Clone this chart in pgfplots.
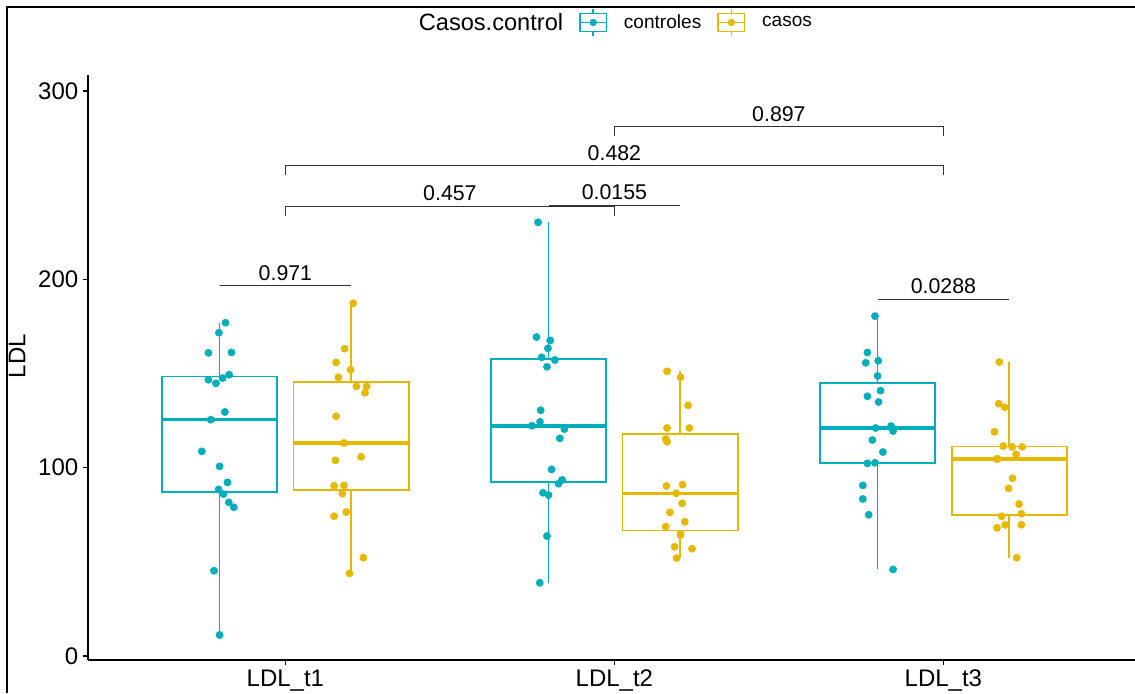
\documentclass[border=0pt]{standalone}
\usepackage{pgfplots}
\pgfplotsset{compat=1.18}
\usepackage{pgfplotstable}
\usepgfplotslibrary{statistics}
\usepackage{fontspec}
\setmainfont{Liberation Sans}

\definecolor{ctrl}{HTML}{00AFBB}
\definecolor{caso}{HTML}{E7B800}
\definecolor{brk}{HTML}{333333}

% jittered observations: x = dodged position, y = LDL
\pgfplotstableread{
x y
0.818 177.0
0.798 171.7
0.766 161.0
0.836 161.2
0.829 149.4
0.809 147.6
0.766 146.7
0.789 144.8
0.816 129.6
0.773 125.5
0.746 108.7
0.800 100.7
0.824 92.2
0.797 88.5
0.812 86.0
0.828 81.6
0.843 79.0
0.783 45.3
0.800 11.2
}\ctrlA
\pgfplotstableread{
x y
1.206 187.3
1.180 163.2
1.154 155.9
1.198 152.0
1.161 148.0
1.216 143.2
1.247 143.2
1.242 139.8
1.154 127.3
1.178 113.1
1.230 105.8
1.152 103.9
1.148 90.4
1.178 90.6
1.173 86.2
1.185 76.5
1.148 74.2
1.237 52.2
1.195 43.9
}\casoA
\pgfplotstableread{
x y
1.768 230.3
1.763 169.4
1.805 167.6
1.798 163.4
1.779 158.6
1.819 157.2
1.795 153.6
1.776 130.5
1.774 124.4
1.749 122.3
1.848 120.5
1.834 115.6
1.809 99.1
1.841 93.5
1.830 91.5
1.783 86.7
1.800 85.5
1.795 63.7
1.773 38.9
}\ctrlB
\pgfplotstableread{
x y
2.160 151.2
2.201 148.0
2.224 133.1
2.160 121.1
2.228 121.1
2.156 115.2
2.160 113.8
2.158 90.3
2.207 91.0
2.188 86.4
2.206 81.1
2.169 76.3
2.214 71.3
2.156 68.7
2.201 64.9
2.201 64.2
2.183 58.0
2.236 57.0
2.189 52.0
}\casoB
\pgfplotstableread{
x y
2.792 180.5
2.769 161.2
2.764 155.7
2.802 156.8
2.800 148.7
2.809 140.9
2.769 137.9
2.803 134.9
2.794 121.1
2.841 122.1
2.847 119.5
2.784 114.7
2.816 108.3
2.769 102.3
2.792 102.6
2.755 90.6
2.755 83.4
2.773 75.0
2.847 46.0
}\ctrlC
\pgfplotstableread{
x y
3.170 156.1
3.168 134.0
3.186 132.1
3.155 119.1
3.182 111.5
3.209 111.1
3.239 111.1
3.221 107.1
3.162 104.6
3.165 104.8
3.210 94.4
3.198 89.0
3.230 80.7
3.237 75.6
3.177 74.2
3.163 68.1
3.188 69.7
3.237 69.7
3.223 52.2
}\casoC

\pgfplotsset{
  ldlbox/.style={
    line width=1.3pt,
    boxplot/draw direction=y,
    boxplot/box extend=0.35,
    boxplot/whisker extend=0,
    boxplot/every median/.style={line width=2.6pt},
  },
  pts/.style={only marks, mark=*, mark size=2.7pt, forget plot},
  keyglyph/.style={legend image code/.code={
    \draw[#1, line width=1.1pt] (0pt,-6.75pt) rectangle (20pt,6.75pt);
    \draw[#1, line width=1.1pt] (10pt,6.75pt) -- (10pt,10.4pt)
      (10pt,-6.75pt) -- (10pt,-10.4pt) (0pt,0pt) -- (20pt,0pt);
    \fill[#1] (10pt,0pt) circle (2.5pt);
  }},
}

\newcommand{\pfont}{\fontsize{16}{19}\selectfont}

\begin{document}
\begin{tikzpicture}
\useasboundingbox (0pt,0pt) rectangle (851.25pt,-519.75pt);
\draw[line width=1.1pt] (5.25pt,-520pt) -- (5.25pt,-5.25pt) -- (852pt,-5.25pt);
\begin{axis}[
  at={(66pt,-495pt)}, anchor=south west,
  scale only axis, width=789.6pt, height=438.45pt,
  xmin=0.4, xmax=3.6, ymin=-2.1, ymax=308.3,
  axis x line*=bottom, axis y line*=left,
  axis line style={line width=1.1pt, -},
  xtick={1,2,3}, xticklabels={LDL\_t1,LDL\_t2,LDL\_t3},
  ytick={0,100,200,300},
  tick align=outside, major tick length=3.75pt,
  tick style={line width=1pt, black},
  /pgf/number format/assume math mode=true,
  tick label style={font=\fontsize{18}{21}\selectfont},
  ylabel={LDL},
  ylabel style={font=\fontsize{18}{21}\selectfont, at={(axis description cs:-0.0674,0.52)}, anchor=center},
  legend style={at={(axis description cs:0.4943,1.0905)}, anchor=center,
    draw=none, fill=none, legend columns=3,
    font=\fontsize{14.3}{17}\selectfont,
    /tikz/every odd column/.append style={column sep=10.5pt},
    /tikz/every even column/.append style={column sep=10pt}},
]
% boxes
\addplot[ctrl, ldlbox, forget plot, boxplot prepared={draw position=0.8,
  lower whisker=11.2, lower quartile=87.2, median=125.5,
  upper quartile=148.5, upper whisker=177.0}] coordinates {};
\addplot[caso, ldlbox, forget plot, boxplot prepared={draw position=1.2,
  lower whisker=43.9, lower quartile=88.3, median=113.1,
  upper quartile=145.6, upper whisker=187.3}] coordinates {};
\addplot[ctrl, ldlbox, forget plot, boxplot prepared={draw position=1.8,
  lower whisker=38.9, lower quartile=92.5, median=122.1,
  upper quartile=157.9, upper whisker=230.3}] coordinates {};
\addplot[caso, ldlbox, forget plot, boxplot prepared={draw position=2.2,
  lower whisker=52.0, lower quartile=66.6, median=86.4,
  upper quartile=117.9, upper whisker=151.2}] coordinates {};
\addplot[ctrl, ldlbox, forget plot, boxplot prepared={draw position=2.8,
  lower whisker=46.0, lower quartile=102.5, median=121.1,
  upper quartile=144.8, upper whisker=180.5}] coordinates {};
\addplot[caso, ldlbox, forget plot, boxplot prepared={draw position=3.2,
  lower whisker=52.2, lower quartile=74.9, median=104.6,
  upper quartile=111.3, upper whisker=156.1}] coordinates {};
% jittered points
\addplot[ctrl, pts] table {\ctrlA};
\addplot[caso, pts] table {\casoA};
\addplot[ctrl, pts] table {\ctrlB};
\addplot[caso, pts] table {\casoB};
\addplot[ctrl, pts] table {\ctrlC};
\addplot[caso, pts] table {\casoC};
% legend
\addlegendimage{empty legend}
\addlegendentry{\fontsize{17.7}{21}\selectfont Casos.control}
\addlegendimage{keyglyph=ctrl}
\addlegendentry{controles}
\addlegendimage{keyglyph=caso}
\addlegendentry{casos}
% p-value brackets
\draw[brk, line width=0.75pt] (axis cs:0.8,196.5) -- (axis cs:1.2,196.5);
\node[font=\pfont, anchor=base] at (axis cs:1.0,199.6) {0.971};
\draw[brk, line width=0.75pt] (axis cs:2.8,189.4) -- (axis cs:3.2,189.4);
\node[font=\pfont, anchor=base] at (axis cs:3.0,192.5) {0.0288};
\draw[brk, line width=0.75pt] (axis cs:1,233.8) -- (axis cs:1,238.6) -- (axis cs:2,238.6) -- (axis cs:2,233.8);
\node[font=\pfont, anchor=base] at (axis cs:1.5,241.7) {0.457};
\draw[brk, line width=0.75pt] (axis cs:1.8,239.1) -- (axis cs:2.2,239.1);
\node[font=\pfont, anchor=base] at (axis cs:2.0,242.2) {0.0155};
\draw[brk, line width=0.75pt] (axis cs:1,255.4) -- (axis cs:1,260.2) -- (axis cs:3,260.2) -- (axis cs:3,255.4);
\node[font=\pfont, anchor=base] at (axis cs:2.0,263.0) {0.482};
\draw[brk, line width=0.75pt] (axis cs:2,276.2) -- (axis cs:2,281.0) -- (axis cs:3,281.0) -- (axis cs:3,276.2);
\node[font=\pfont, anchor=base] at (axis cs:2.5,283.8) {0.897};
\end{axis}
\end{tikzpicture}
\end{document}
